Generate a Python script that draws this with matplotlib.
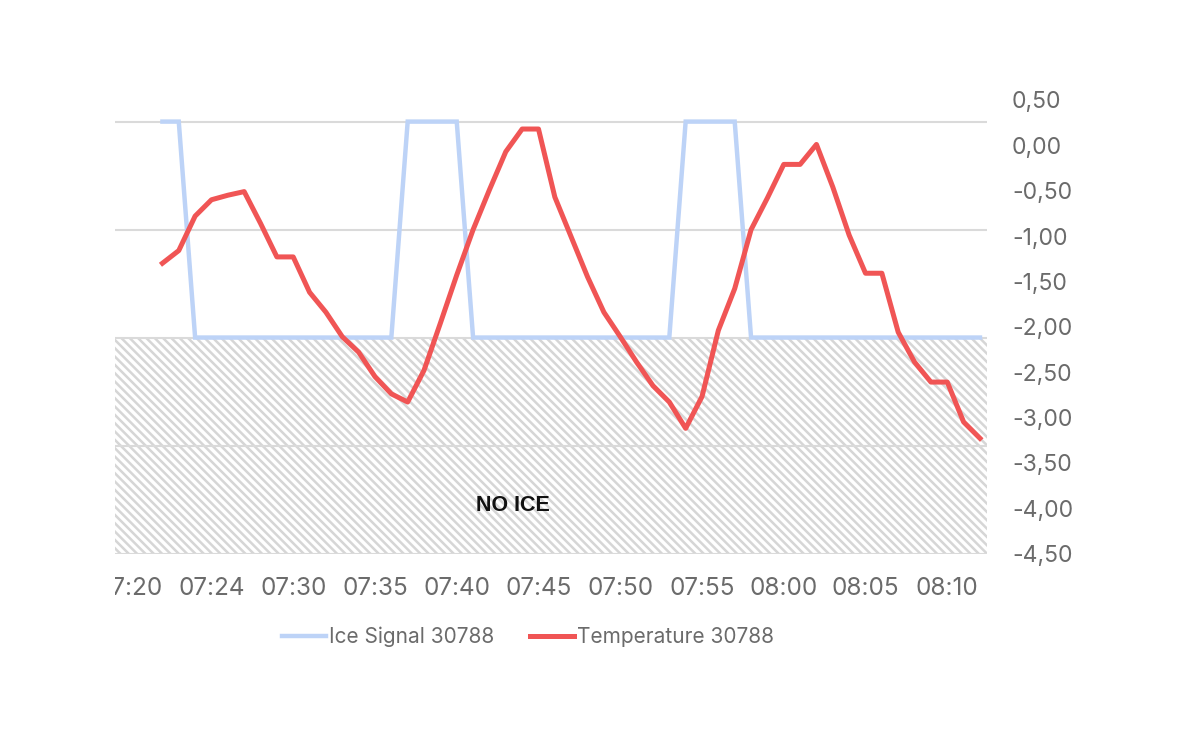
import matplotlib
matplotlib.use("Agg")
import matplotlib.pyplot as plt
from matplotlib.transforms import Bbox, TransformedBbox

# ---- data ----
temperature = [-1.30, -1.16, -0.78, -0.60, -0.55, -0.51, -0.86, -1.23, -1.23, -1.62,
               -1.84, -2.11, -2.28, -2.55, -2.74, -2.83, -2.48, -1.96, -1.43, -0.93,
               -0.49, -0.07, 0.18, 0.18, -0.57, -1.01, -1.45, -1.84, -2.11, -2.39,
               -2.65, -2.83, -3.12, -2.77, -2.04, -1.58, -0.93, -0.58, -0.21, -0.21,
               0.01, -0.46, -0.99, -1.41, -1.41, -2.06, -2.39, -2.61, -2.61, -3.05,
               -3.23]
ice_signal = [4, 4, 2, 2, 2, 2, 2, 2, 2, 2, 2, 2, 2, 2, 2, 4, 4, 4, 4, 2,
              2, 2, 2, 2, 2, 2, 2, 2, 2, 2, 2, 2, 4, 4, 4, 4, 2, 2, 2, 2,
              2, 2, 2, 2, 2, 2, 2, 2, 2, 2, 2]
tick_labels = ["07:20", "07:24", "07:30", "07:35", "07:40", "07:45",
               "07:50", "07:55", "08:00", "08:05", "08:10"]
temp_ticks = [0.5, 0.0, -0.5, -1.0, -1.5, -2.0, -2.5, -3.0, -3.5, -4.0, -4.5]
x = list(range(len(temperature)))
tick_pos = [-2 + 5 * i for i in range(len(tick_labels))]

plt.rcParams['hatch.linewidth'] = 1.8
fig = plt.figure(figsize=(12, 7.45), dpi=100)
L, R = 115 / 1200, 987 / 1200
B, T = 1 - 553.5 / 745, 1 - 100 / 745
ax = fig.add_axes([L, B, R - L, T - B])
ax2 = ax.twinx()

grey = '#6b6b6b'
ax.set_xlim(-2.9, 50.43)
ax.set_ylim(0, 4.2)
ax2.set_ylim(-4.5, 0.5)

# no-ice hatched band
hatch = chr(92) * 4
ax.axhspan(0, 2, facecolor='none', edgecolor='#d6d6d6', hatch=hatch, linewidth=0, zorder=0)
for g in [0, 1, 2, 3, 4]:
    ax.axhline(g, color='#dadada', lw=1.5, zorder=1)

l1, = ax.plot(x, ice_signal, color='#bdd3f7', lw=3.2, zorder=3, label='Ice Signal 30788',
              solid_joinstyle='miter')
l2, = ax2.plot(x, temperature, color='#f05555', lw=3.6, zorder=3, label='Temperature 30788')

ax.text(0.456, 0.105, 'NO ICE', transform=ax.transAxes, ha='center', va='center',
        fontsize=15.5, fontweight='bold', family='Liberation Sans', color='#111111')

for s in list(ax.spines.values()) + list(ax2.spines.values()):
    s.set_visible(False)

ax.set_yticks([])
ax.set_xticks(tick_pos)
ax.set_xticklabels(tick_labels, fontsize=17.5, color=grey, family='Inter')
ax.tick_params(axis='x', length=0, pad=17)

ax2.set_yticks(temp_ticks)
ax2.set_yticklabels([f"{v:.2f}".replace('.', ',') for v in temp_ticks],
                    fontsize=16.5, color=grey, family='Inter')
ax2.tick_params(axis='y', length=0, pad=18)

fig.legend(handles=[l1, l2], loc='center', bbox_to_anchor=(528 / 1200, 1 - 637 / 745),
           ncol=2, frameon=False, prop={'family': 'Inter', 'size': 15},
           labelcolor=grey, handlelength=2.1, handletextpad=0.15, columnspacing=1.75)

fig.canvas.draw()
clip = TransformedBbox(Bbox([[L, 0], [1, 1]]), fig.transFigure)
for lbl in ax.get_xticklabels():
    lbl.set_clip_on(True)
    lbl.set_clip_box(clip)

fig.savefig('out.png', dpi=100, facecolor='white')
